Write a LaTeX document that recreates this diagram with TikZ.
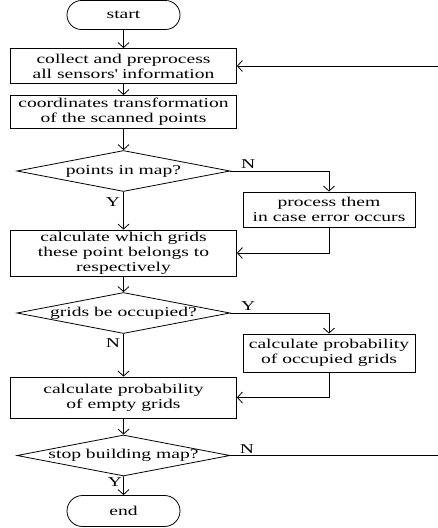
\documentclass[tikz,border=0pt]{standalone}
\usepackage{fontspec}
\setmainfont[FakeStretch=1.45]{Liberation Serif}
\usetikzlibrary{shapes.geometric,shapes.misc,arrows.meta}
\begin{document}
\begin{tikzpicture}[x=1pt,y=-1pt,
  every node/.style={font=\fontsize{13.5}{15}\selectfont, align=center, inner sep=0pt},
  box/.style={draw, rectangle, line width=0.8pt, minimum width=226pt},
  side/.style={draw, rectangle, line width=0.8pt, minimum width=172pt},
  term/.style={draw, rounded rectangle, line width=0.8pt, minimum width=113pt, minimum height=29pt},
  dec/.style={draw, diamond, line width=0.8pt, minimum width=213pt, minimum height=41pt},
  arr/.style={line width=0.8pt, -{Straight Barb[length=5pt,width=11pt]}},
  lbl/.style={font=\fontsize{13.5}{15}\selectfont}
]
\useasboundingbox (0,0) rectangle (437,528);

\node[term] (start) at (123.5,15) {start};
\node[box, minimum height=35pt] (b1) at (123.5,66) {collect and preprocess\\all sensors\textquotesingle\ information};
\node[box, minimum height=33pt] (b2) at (123.5,112) {coordinates transformation\\of the scanned points};
\node[dec] (d1) at (123.5,171) {\makebox[0pt]{points in map?}};
\node[side, minimum height=35pt] (p1) at (329,209.5) {process them\\in case error occurs};
\node[box, minimum height=46pt] (b3) at (123.5,253) {calculate which grids\\these point belongs to\\respectively};
\node[dec] (d2) at (123.5,313) {\makebox[0pt]{grids be occupied?}};
\node[side, minimum height=38pt] (p2) at (329,353) {calculate probability\\of occupied grids};
\node[box, minimum height=41pt] (b4) at (123.5,397.5) {calculate probability\\of empty grids};
\node[dec] (d3) at (123.5,455.5) {\makebox[0pt]{stop building map?}};
\node[term, minimum height=31pt] (end) at (123.5,511) {end};
\coordinate (r) at (438,0);

\draw[arr] (start) -- (b1);
\draw[arr] (b1) -- (b2);
\draw[arr] (b2) -- (d1);
\draw[arr] (d1) -- node[lbl, pos=0.27, anchor=east, xshift=-3pt] {Y} (b3);
\draw[arr] (d1.east) -| node[lbl, pos=0.09, anchor=south, yshift=2pt] {N} (p1.north);
\draw[arr] (p1.south) |- (b3.east);
\draw[arr] (b3) -- (d2);
\draw[arr] (d2.east) -| node[lbl, pos=0.09, anchor=south, yshift=2pt] {Y} (p2.north);
\draw[arr] (d2) -- node[lbl, pos=0.22, anchor=east, xshift=-3pt] {N} (b4);
\draw[arr] (p2.south) |- (b4.east);
\draw[arr] (b4) -- (d3);
\draw[arr] (d3) -- node[lbl, pos=0.3, anchor=east, xshift=-1pt] {Y} (end);
\draw[arr] (d3.east) -- node[lbl, pos=0.08, anchor=south, yshift=2pt] {N} (d3.east -| r) -- (b1.east -| r) -- (b1.east);
\end{tikzpicture}
\end{document}
